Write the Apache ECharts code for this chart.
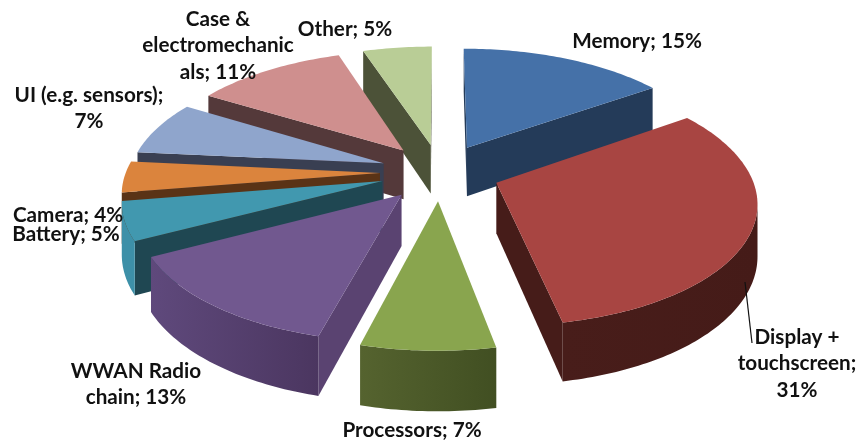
<!DOCTYPE html>
<html>
<head>
<meta charset="utf-8">
<style>
  html, body { margin: 0; padding: 0; background: #fff; }
  #main { width: 857px; height: 440px; }
</style>
<script src="https://cdn.jsdelivr.net/npm/echarts@6/dist/echarts.min.js"></script>
</head>
<body>
<div id="main"></div>
<script>
var categories = ['Memory', 'Display + touchscreen', 'Processors', 'WWAN Radio chain', 'Battery', 'Camera', 'UI (e.g. sensors)', 'Case & electromechanicals', 'Other'];
var shares = [15, 31, 7, 13, 5, 4, 7, 11, 5];

// how each label is wrapped, the way the original breaks it
var labelTexts = ['Memory; 15%', 'Display +\ntouchscreen;\n31%', 'Processors; 7%', 'WWAN Radio\nchain; 13%', 'Battery; 5%', 'Camera; 4%', 'UI (e.g. sensors);\n7%', 'Case &\nelectromechanic\nals; 11%', 'Other; 5%'];

var topColors = ['#4571a8', '#a84542', '#89a54e', '#71588f', '#4198af', '#db843d', '#8fa5cc', '#cf8f8e', '#b9cd96'];
var sideColors = ['#243b59', '#461c19', '#4a5a28', '#5a4371', '#1f4752', '#5a3316', '#393f52', '#54393a', '#4c5238'];
var arcRight = ['#243b59', '#451b18', '#414f22', '#4b3660', '#3d90a8', '#a8622a', '#5c6e8c', '#8a5f5e', '#6f7f52'];
var arcLeft = ['#243b59', '#481d1a', '#55632f', '#5f497c', '#3d90a8', '#a8622a', '#5c6e8c', '#8a5f5e', '#6f7f52'];
// centre of the first line of each label
var labelSpots = [[637, 41], [797, 337], [412, 430], [136, 371], [66, 234], [68, 215], [89, 95], [218, 19], [345, 29]];

var pie = { cx: 440, cy: 172, radius: 254, explode: 60, tilt: 0.47, view: 1800, depth: 50 };

var total = shares.reduce(function (a, b) { return a + b; }, 0);
var slices = (function () {
  var acc = 0, list = [];
  for (var i = 0; i < shares.length; i++) {
    var start = acc / total * Math.PI * 2;
    acc += shares[i];
    var end = acc / total * Math.PI * 2;
    var mid = (start + end) / 2;
    list.push({
      index: i,
      start: start,
      end: end,
      ox: pie.explode * Math.sin(mid),
      oy: -pie.explode * Math.cos(mid)
    });
  }
  return list;
})();

function project(x, y) {
  var p = pie.view / (pie.view - y);
  return { x: pie.cx + x * p, y: pie.cy + y * pie.tilt * p, drop: pie.depth * p };
}

function poly(points, fill, z) {
  return {
    type: 'polygon',
    z2: z,
    shape: { points: points },
    style: { fill: fill, stroke: null },
    silent: true
  };
}

// wall under a run of outline points, top edge then bottom edge back again
function wall(run) {
  var points = run.map(function (o) { return [o.x, o.y]; });
  for (var k = run.length - 1; k >= 0; k--) {
    points.push([run[k].x, run[k].y + run[k].drop]);
  }
  return points;
}

function renderSlice(params, api) {
  var s = slices[api.value(0)], i = s.index;
  var steps = Math.max(2, Math.round((s.end - s.start) * 180 / Math.PI));
  var apex = project(s.ox, s.oy);
  var rim = [];
  for (var k = 0; k <= steps; k++) {
    var a = s.start + (s.end - s.start) * k / steps;
    rim.push(project(s.ox + pie.radius * Math.sin(a), s.oy - pie.radius * Math.cos(a)));
  }
  var children = [];
  // only the edges that run leftwards on screen face the viewer
  var first = rim[0], last = rim[rim.length - 1];
  if (first.x < apex.x) children.push(poly(wall([apex, first]), sideColors[i], 1));
  if (apex.x < last.x) children.push(poly(wall([last, apex]), sideColors[i], 1));
  var run = [];
  for (var e = 0; e < rim.length; e++) {
    var goingLeft = (e + 1 < rim.length && rim[e + 1].x < rim[e].x);
    var cameLeft = (e > 0 && rim[e].x < rim[e - 1].x);
    if (goingLeft || cameLeft) run.push(rim[e]);
  }
  if (run.length > 1) {
    var xs = run.map(function (o) { return o.x; });
    children.push(poly(wall(run), new echarts.graphic.LinearGradient(
      Math.min.apply(null, xs), 0, Math.max.apply(null, xs), 0,
      [{ offset: 0, color: arcLeft[i] }, { offset: 1, color: arcRight[i] }], true
    ), 1));
  }
  var top = [[apex.x, apex.y]].concat(rim.map(function (o) { return [o.x, o.y]; }));
  children.push(poly(top, topColors[i], 2));
  return { type: 'group', children: children };
}

// far slices first, so the nearer ones paint over them
var drawOrder = slices.slice().sort(function (a, b) { return a.oy - b.oy; }).map(function (s) {
  return [s.index, shares[s.index]];
});

var labelGraphics = labelTexts.map(function (text, i) {
  return {
    type: 'text',
    x: labelSpots[i][0],
    y: labelSpots[i][1] - 13,
    z: 10,
    silent: true,
    style: {
      text: text,
      fill: '#111',
      font: 'bold 20.7px Lato',
      lineHeight: 26.5,
      align: 'center',
      verticalAlign: 'top'
    }
  };
});
labelGraphics.push({
  type: 'line',
  z: 10,
  silent: true,
  shape: { x1: 745, y1: 282, x2: 752, y2: 343 },
  style: { stroke: '#111', lineWidth: 1.2 }
});

var myChart = echarts.init(document.getElementById('main'));
myChart.setOption({
  animation: false,
  backgroundColor: '#fff',
  graphic: labelGraphics,
  series: [{
    type: 'custom',
    name: 'share',
    coordinateSystem: 'none',
    renderItem: renderSlice,
    silent: true,
    data: drawOrder
  }]
});
</script>
</body>
</html>
